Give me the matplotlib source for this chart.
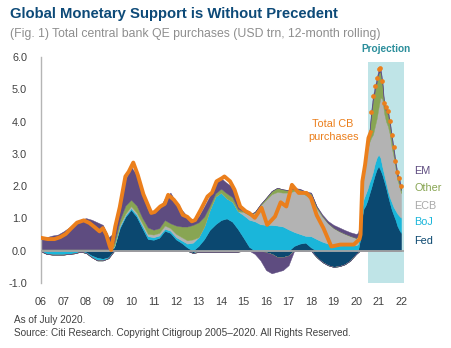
import matplotlib
matplotlib.use('Agg')
import matplotlib.pyplot as plt
import numpy as np

plt.rcParams['font.family'] = ['Liberation Sans', 'DejaVu Sans']

# ---- data (USD trn, 12-month rolling) ----
# quarterly history 2006Q1 .. 2019Q4
t_hist = 2006 + np.arange(56) * 0.25
fed_hist = [0, 0, 0, 0, 0, 0, 0, 0, -.05, -.15, -.22, -.25, -.20, .10, .70, 1.05,
            1.27, 1.05, .70, .36, .34, .40, .62, .55, .35, .24, .10, -.07,
            .15, .36, .65, .82, .95, 1.0, .90, .67, .40, .12, 0, 0,
            -.05, -.10, -.20, -.20, -.15, .15, .22, .25, .10, -.20, -.35, -.45,
            -.50, -.48, -.42, -.30]
boj_hist = [-.02, -.10, -.12, -.12, -.12, -.10, -.08, -.03, -.02, -.05, -.08, -.05,
            -.03, .02, .05, .05, .05, .07, .08, .09, .08, .07, .06, .07,
            .07, .08, .12, .25, .27, .39, .62, .86, .85, .62, .62, .55,
            .70, .84, .91, .82, .80, .80, .78, .75, .66, .43, .30, .21,
            .35, .36, .28, .22, .17, .16, .17, .18]
ecb_hist = [.02, .02, .02, .02, .02, .02, .02, .02, .02, .02, .02, .02,
            .02, .02, .05, .05, .06, .06, .07, .07, .08, .08, .10, .08,
            .10, .10, .10, .10, -.04, -.04, -.04, -.04, -.04, -.04, -.04, -.03,
            .10, .14, .27, .58, .78, .95, 1.04, 1.05, 1.14, 1.27, 1.33, 1.26,
            1.20, .94, .77, .63, .53, .44, .35, .27]
other_hist = [.03, .03, .03, .03, .03, .03, .03, .03, .03, .03, .03, .03,
              .03, .11, .15, .25, .20, .22, .17, .20, .15, .15, .17, .15,
              .26, .33, .43, .45, .46, .31, .13, .10, .12, .16, .14, .08,
              .02, .02, .02, .04, .06, .10, .13, .10, .08, .07, .05, .10,
              .13, .06, .03, .01, .01, .01, .01, .01]
em_hist = [.31, .37, .42, .45, .55, .67, .81, .91, .96, .91, .83, .75,
           .37, .30, .30, .80, 1.02, .95, .73, .55, .55, .60, .67, .95,
           .72, .52, .31, .16, .18, .31, .30, .32, .33, .32, .32, .10,
           .04, .02, -.10, -.30, -.55, -.60, -.45, -.40, -.30, .02, .02, .02,
           .02, .02, .04, .06, .09, .11, .11, .11]

# monthly Jan 2020 .. Jan 2022 (projection from Sep 2020)
t_month = 2020 + np.arange(25) / 12
fed_month = [-.10, -.05, .30, 1.0, 1.3, 1.4, 1.55, 1.75, 1.94, 2.15, 2.35, 2.52, 2.62,
             2.50, 2.35, 2.15, 1.94, 1.70, 1.48, 1.27, 1.11, .96, .77, .65, .55]
boj_month = [.17, .20, .20, .25, .30, .35, .35, .35, .31, .30, .35, .36, .36,
             .38, .25, .20, .16, .15, .17, .23, .24, .29, .38, .43, .47]
ecb_month = [.22, .25, .20, .65, .70, .95, 1.20, 1.25, 1.25, 1.15, 1.15, 1.22, 1.47,
             1.87, 2.10, 1.90, 1.90, 2.0, 1.95, 1.70, 1.57, 1.31, 1.05, .94, .76]
other_month = [.01, .02, .05, .10, .10, .15, .15, .20, .66, 1.05, 1.10, 1.12, 1.05,
               .79, .45, .20, .32, .37, .30, .27, .17, .11, .11, .11, .09]
em_month = [.12, .08, .05, .10, .10, .10, .10, .10, .15, .15, .14, .13, .12,
            .12, .12, .12, .12, .12, .12, .12, .12, .12, .12, .12, .12]

# total CB purchases line (actual) and projected points
t_total = [2006.0, 2006.3, 2006.6, 2006.85, 2007.1, 2007.35, 2007.6, 2007.9, 2008.15,
           2008.4, 2008.6, 2008.75, 2008.9, 2009.05, 2009.12, 2009.3, 2009.5, 2009.75,
           2009.9, 2010.1, 2010.3, 2010.55, 2010.9, 2011.05, 2011.3, 2011.5, 2011.65,
           2011.9, 2012.1, 2012.3, 2012.5, 2012.7, 2012.85, 2013.1, 2013.4, 2013.6,
           2013.8, 2014.05, 2014.15, 2014.4, 2014.6, 2014.85, 2015.1, 2015.25, 2015.5,
           2015.8, 2016.05, 2016.4, 2016.65, 2016.9, 2017.15, 2017.45, 2017.8, 2018.0,
           2018.25, 2018.55, 2018.9, 2019.3, 2019.9, 2020.05, 2020.15, 2020.2, 2020.28,
           2020.4, 2020.55, 2020.65]
total = [0.40, 0.36, 0.36, 0.42, 0.52, 0.70, 0.87, 0.94, 0.86,
         0.72, 0.60, 0.70, 0.50, 0.15, 0.02, 0.75, 1.35, 2.30,
         2.45, 2.73, 2.35, 1.75, 1.17, 1.20, 1.37, 1.45, 1.73,
         1.58, 1.40, 1.11, 1.05, 0.91, 0.95, 1.27, 1.68, 1.80,
         2.15, 2.25, 2.30, 2.15, 1.89, 1.37, 1.22, 1.17, 1.02,
         1.33, 0.80, 1.06, 1.50, 1.37, 2.04, 1.79, 1.79, 1.63,
         1.10, 0.70, 0.13, 0.19, 0.19, 0.29, 0.35, 0.50, 2.15,
         2.66, 3.49, 3.67]
t_proj = t_month[8:]
total_proj = [4.31, 4.80, 5.09, 5.35, 5.62, 5.66, 5.27, 4.57, 4.44, 4.34, 4.02,
              3.59, 3.21, 2.79, 2.43, 2.25, 1.99]

series = ['Fed', 'BoJ', 'ECB', 'Other', 'EM']
colors = {'Fed': '#0b4870', 'BoJ': '#1ab6da', 'ECB': '#b3b3b3',
          'Other': '#88a553', 'EM': '#5e4c80'}
orange = '#eb7f1c'

t_all = np.concatenate([t_hist, t_month])
values = {
    'Fed': np.concatenate([fed_hist, fed_month]),
    'BoJ': np.concatenate([boj_hist, boj_month]),
    'ECB': np.concatenate([ecb_hist, ecb_month]),
    'Other': np.concatenate([other_hist, other_month]),
    'EM': np.concatenate([em_hist, em_month]),
}

fig = plt.figure(figsize=(4.52, 3.48), dpi=100)
ax = fig.add_axes([41 / 452, 1 - 283 / 348, 363 / 452, 226 / 348])

# projection shading
ax.fill_between([2020.53, 2022.13], -1.0, 5.86, color='#bfe4e7', lw=0, zorder=0)
ax.text(2021.33, 6.08, 'Projection', color='#2b8e9b', fontsize=7.3, fontweight='bold',
        ha='center', va='bottom')

pos_base = np.zeros(len(t_all))
neg_base = np.zeros(len(t_all))
for s in series:
    v = values[s]
    p = np.clip(v, 0, None)
    n = np.clip(v, None, 0)
    ax.fill_between(t_all, pos_base, pos_base + p, color=colors[s], lw=0.3,
                    edgecolor=colors[s], zorder=2)
    ax.fill_between(t_all, neg_base, neg_base + n, color=colors[s], lw=0.3,
                    edgecolor=colors[s], zorder=2)
    pos_base = pos_base + p
    neg_base = neg_base + n

ax.axhline(0, color='#a3a3a3', lw=1.3, zorder=3)
ax.plot(t_total, total, color=orange, lw=2.8, zorder=4, solid_joinstyle='round')
ax.plot(t_proj, total_proj, 'o', color=orange, ms=3.4, mec='none', zorder=5)

ax.text(2018.98, 3.72, 'Total CB\npurchases', color=orange, fontsize=7.8,
        ha='center', va='center', linespacing=1.3)

legend_y = [2.48, 1.94, 1.39, 0.88, 0.31]
for s, yy in zip(series[::-1], legend_y):
    c = colors[s]
    if s == 'ECB':
        c = '#a9a9a9'
    ax.text(2022.58, yy, s, color=c, fontsize=7.8, ha='left', va='center')

ax.set_xlim(2006, 2022.13)
ax.set_ylim(-1.0, 6.0)
ax.set_yticks(np.arange(-1, 7))
ax.set_yticklabels(['%.1f' % v for v in np.arange(-1, 7)])
ax.set_xticks(np.arange(2006, 2023))
ax.set_xticklabels(['%02d' % (y % 100) for y in range(2006, 2023)])
ax.tick_params(length=0, labelsize=7.8, colors='#404040')
ax.tick_params(axis='y', pad=10)
ax.tick_params(axis='x', pad=10)
for sp in ['top', 'right', 'bottom']:
    ax.spines[sp].set_visible(False)
ax.spines['left'].set_color('#b5b5b5')
ax.spines['left'].set_linewidth(1.0)

fig.text(10 / 452, 1 - 18 / 348, 'Global Monetary Support is Without Precedent',
         color='#0d4a78', fontsize=10.7, fontweight='bold', va='baseline')
fig.text(10 / 452, 1 - 37 / 348,
         '(Fig. 1) Total central bank QE purchases (USD trn, 12-month rolling)',
         color='#8e8e8e', fontsize=8.8, va='baseline')
fig.text(14 / 452, 1 - 323 / 348, 'As of July 2020.', color='#404040',
         fontsize=7.2, va='baseline')
fig.text(14 / 452, 1 - 336 / 348,
         'Source: Citi Research. Copyright Citigroup 2005\u20132020. All Rights Reserved.',
         color='#404040', fontsize=7.2, va='baseline')

fig.savefig('out.png', dpi=100, facecolor='white')
